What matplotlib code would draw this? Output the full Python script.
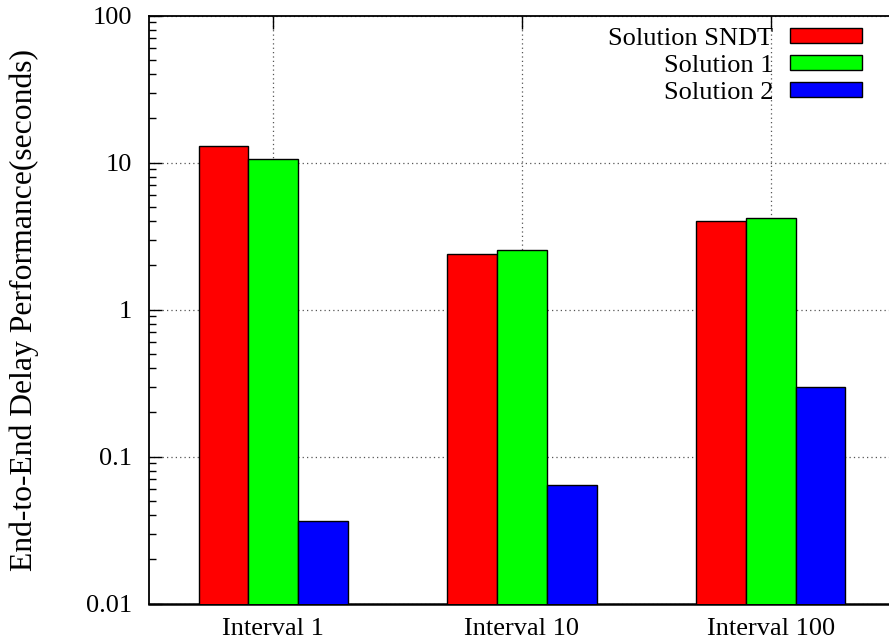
import numpy as np
import matplotlib.pyplot as plt
from matplotlib.ticker import LogLocator, NullFormatter, FixedLocator

plt.rcParams["font.family"] = ["Liberation Serif", "DejaVu Serif"]

intervals = ["Interval 1", "Interval 10", "Interval 100"]
series_names = ["Solution SNDT", "Solution 1", "Solution 2"]
sndt = [13.0, 2.39, 4.0]
sol1 = [10.6, 2.56, 4.21]
sol2 = [0.0364, 0.0645, 0.296]
colors = ["#ff0000", "#00ff00", "#0000ff"]

fig = plt.figure(figsize=(8.89, 6.42), dpi=100)
ax = fig.add_axes([149 / 889, 38.3 / 642, 746 / 889, 588 / 642])

x = np.arange(len(intervals))
width = 0.2
for k, (vals, name, c) in enumerate(zip([sndt, sol1, sol2], series_names, colors)):
    ax.bar(x + (k - 1) * width, vals, width, color=c, edgecolor="black",
           linewidth=1.0, label=name, zorder=3)

ax.set_yscale("log")
ax.set_ylim(0.01, 100)
ax.set_xlim(-0.5, 2.5)

ax.yaxis.set_major_locator(FixedLocator([0.01, 0.1, 1, 10, 100]))
ax.set_yticklabels(["0.01", "0.1", "1", "10", "100"])
ax.yaxis.set_minor_locator(LogLocator(base=10, subs=np.arange(2, 10)))
ax.yaxis.set_minor_formatter(NullFormatter())

ax.set_xticks(x)
ax.set_xticklabels(intervals)
ax.tick_params(axis="x", which="both", bottom=False, top=True, direction="in",
               length=9, width=1.0, labelsize=19, pad=10)
ax.tick_params(axis="y", which="major", direction="in", length=9, width=1.0,
               labelsize=19, pad=12, right=False)
ax.tick_params(axis="y", which="minor", direction="in", length=5, width=1.0,
               right=False)

ax.grid(True, which="major", axis="both", color="#555555", linestyle=(0, (1, 2.5)),
        linewidth=0.9, zorder=0)
ax.set_axisbelow(True)
for sp in ax.spines.values():
    sp.set_linewidth(1.3)
ax.spines["bottom"].set_linewidth(1.8)

ax.set_ylabel("End-to-End Delay Performance(seconds)", fontsize=22.8)
ax.yaxis.set_label_coords(-0.147, 0.5)

ax.legend(loc="upper right", bbox_to_anchor=(0.973, 1.002), frameon=False,
          markerfirst=False, fontsize=19, handlelength=2.7, handleheight=0.5,
          handletextpad=0.65, labelspacing=0.2, borderaxespad=0.1)

fig.savefig("out.png", dpi=100)
